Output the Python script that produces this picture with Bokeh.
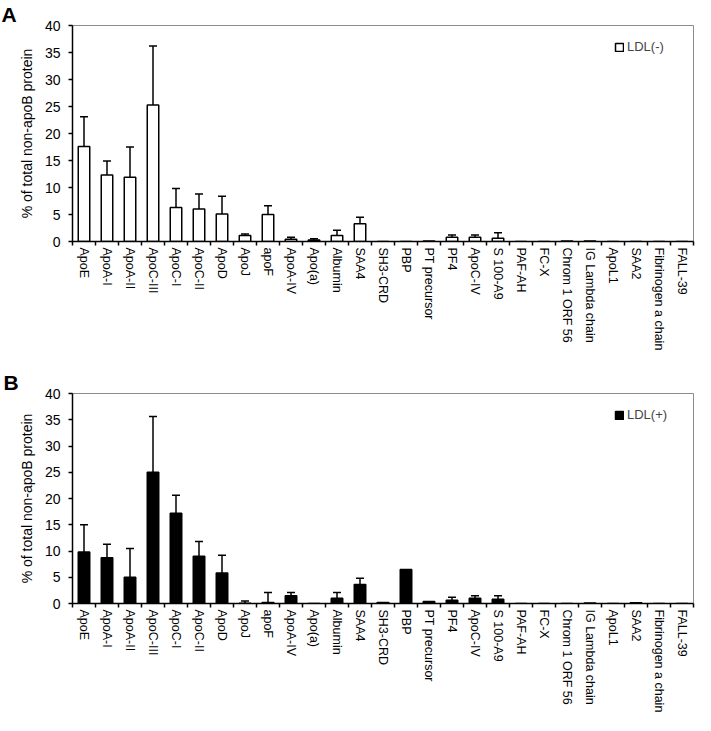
from bokeh.plotting import figure
from bokeh.models import (ColumnDataSource, Whisker, TeeHead, FixedTicker, Range1d,
                          Legend, Title)
from bokeh.layouts import column
from bokeh.embed import file_html
from bokeh.resources import INLINE

# ---------------- data ----------------
proteins = ["ApoE", "ApoA-I", "ApoA-II", "ApoC-III", "ApoC-I", "ApoC-II", "ApoD", "ApoJ",
            "apoF", "ApoA-IV", "Apo(a)", "Albumin", "SAA4", "SH3-CRD", "PBP", "PT precursor",
            "PF4", "ApoC-IV", "S 100-A9", "PAF-AH", "FC-X", "Chrom 1 ORF 56",
            "IG Lambda chain", "ApoL1", "SAA2", "Fibrinogen a chain", "FALL-39"]

ldl_minus = [17.6, 12.3, 11.9, 25.3, 6.3, 6.0, 5.1, 1.1, 5.0, 0.4, 0.3, 1.1, 3.3, 0, 0, 0.1,
             0.8, 0.8, 0.6, 0, 0, 0.1, 0.1, 0, 0, 0, 0]
ldl_minus_sd = [5.5, 2.6, 5.6, 10.9, 3.5, 2.8, 3.3, 0.3, 1.6, 0.4, 0.2, 1.0, 1.2, 0, 0, 0,
                0.4, 0.4, 1.0, 0, 0, 0, 0, 0, 0, 0, 0]

ldl_plus = [9.8, 8.7, 5.0, 25.0, 17.2, 9.0, 5.8, 0.05, 0.2, 1.5, 0, 1.0, 3.6, 0.2, 6.5, 0.4,
            0.6, 1.0, 0.8, 0, 0, 0, 0.1, 0, 0.15, 0, 0]
ldl_plus_sd = [5.2, 2.6, 5.5, 10.6, 3.4, 2.8, 3.4, 0.45, 1.9, 0.6, 0, 1.1, 1.2, 0, 0, 0,
               0.6, 0.5, 0.7, 0, 0, 0, 0, 0, 0, 0, 0]

y_ticks = [0, 5, 10, 15, 20, 25, 30, 35, 40]
y_label = "% of total non-apoB protein"

FONT = "Liberation Sans"


def make_panel(letter, vals, sds, legend_text, fill, height, border_top, border_left):
    n = len(proteins)
    xs = list(range(n))
    title = Title(text=letter, align="left", offset=-border_left + 1,
                  text_font=FONT, text_font_size="21px", text_font_style="bold",
                  text_color="black", text_line_height=0.8, standoff=0)
    p = figure(width=695, height=height, output_backend="svg", toolbar_location=None,
               x_range=Range1d(-0.5, n - 0.5), y_range=Range1d(0, 40),
               min_border_left=border_left, min_border_right=2,
               min_border_top=border_top, min_border_bottom=100,
               background_fill_color="white", border_fill_color="white",
               title=title)
    p.outline_line_color = "#8c8c8c"
    p.outline_line_width = 1
    p.xgrid.visible = False
    p.ygrid.visible = False

    src = ColumnDataSource(dict(x=xs, top=vals))
    r = p.vbar(x="x", top="top", width=0.5, source=src, fill_color=fill,
               line_color="black", line_width=1.5)

    ex = [x for x, v, s in zip(xs, vals, sds) if s > 0]
    elo = [v for v, s in zip(vals, sds) if s > 0]
    ehi = [v + s for v, s in zip(vals, sds) if s > 0]
    esrc = ColumnDataSource(dict(x=ex, lower=elo, upper=ehi))
    w = Whisker(base="x", lower="lower", upper="upper", source=esrc, dimension="height",
                line_color="black", line_width=1.5,
                upper_head=TeeHead(size=8, line_color="black", line_width=1.5),
                lower_head=None)
    p.add_layout(w)

    # x axis
    xa = p.xaxis[0]
    xa.ticker = FixedTicker(ticks=xs, minor_ticks=[x - 0.5 for x in range(n + 1)])
    xa.major_label_overrides = {x: name for x, name in zip(xs, proteins)}
    xa.major_label_orientation = "vertical"
    xa.major_tick_out = 0
    xa.major_tick_in = 0
    xa.minor_tick_out = 4
    xa.minor_tick_in = 0
    xa.minor_tick_line_color = "black"
    xa.minor_tick_line_width = 1.5
    xa.axis_line_color = "black"
    xa.axis_line_width = 1.5
    xa.major_label_standoff = 2
    xa.major_label_text_font = FONT
    xa.major_label_text_font_size = "12.5px"
    xa.major_label_text_color = "black"

    # y axis
    ya = p.yaxis[0]
    ya.ticker = FixedTicker(ticks=y_ticks)
    ya.minor_tick_line_color = None
    ya.major_tick_out = 4
    ya.major_tick_in = 0
    ya.major_tick_line_color = "black"
    ya.major_tick_line_width = 1.5
    ya.axis_line_color = "black"
    ya.axis_line_width = 1.5
    ya.major_label_standoff = 8
    ya.major_label_text_font = FONT
    ya.major_label_text_font_size = "14px"
    ya.major_label_text_color = "black"
    ya.axis_label = y_label
    ya.axis_label_text_font = FONT
    ya.axis_label_text_font_size = "14px"
    ya.axis_label_text_font_style = "normal"
    ya.axis_label_text_color = "black"
    ya.axis_label_standoff = 7

    leg = Legend(items=[(legend_text, [r])], location="top_right",
                 margin=0, padding=14, glyph_width=10, glyph_height=10,
                 label_height=14, label_width=52, label_standoff=3,
                 label_text_font=FONT, label_text_font_size="13px",
                 border_line_alpha=0, background_fill_alpha=0)
    p.add_layout(leg)
    return p


pA = make_panel("A", ldl_minus, ldl_minus_sd, "LDL(-)", "white", 353, 17, 72)
pB = make_panel("B", ldl_plus, ldl_plus_sd, "LDL(+)", "black", 362, 40, 70)

layout = column(pA, pB)
open("out.html", "w").write(file_html(layout, INLINE))
